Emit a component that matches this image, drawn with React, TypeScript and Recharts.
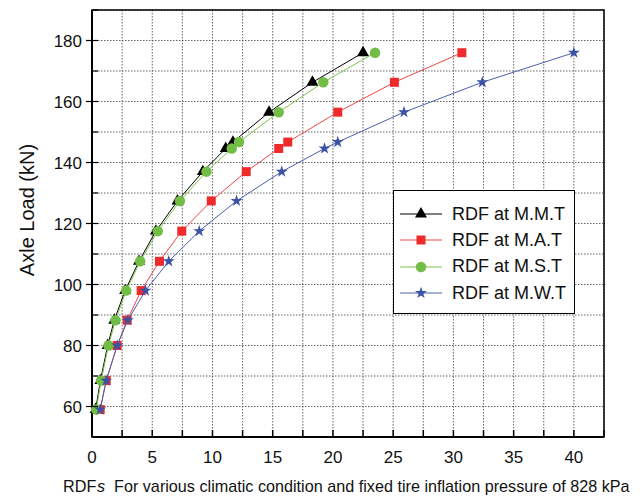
import { CartesianGrid, Legend, ReferenceArea, Scatter, ScatterChart, Symbols, XAxis, YAxis } from 'recharts';

// axle loads (kN) shared by every series
const loads = [59, 68.5, 80, 88.3, 98, 107.6, 117.5, 127.4, 137, 144.6, 146.7, 156.5, 166.3, 176];

// RDF values for each climatic condition
const rdfMMT = [0.3, 0.7, 1.3, 1.85, 2.75, 3.9, 5.3, 7.1, 9.2, 11.1, 11.7, 14.7, 18.3, 22.5];
const rdfMAT = [0.68, 1.18, 2.09, 2.92, 4.08, 5.6, 7.45, 9.9, 12.8, 15.5, 16.25, 20.4, 25.1, 30.7];
const rdfMST = [0.35, 0.76, 1.37, 1.95, 2.84, 4.0, 5.46, 7.3, 9.5, 11.6, 12.2, 15.5, 19.2, 23.5];
const rdfMWT = [0.68, 1.18, 2.09, 2.97, 4.44, 6.37, 8.9, 12.0, 15.75, 19.3, 20.4, 25.9, 32.4, 40.0];

const seriesNames = ['RDF at M.M.T', 'RDF at M.A.T', 'RDF at M.S.T', 'RDF at M.W.T'];

const xTicks = [0, 2.5, 5, 7.5, 10, 12.5, 15, 17.5, 20, 22.5, 25, 27.5, 30, 32.5, 35, 37.5, 40, 42.5];
const yTicks = [50, 60, 70, 80, 90, 100, 110, 120, 130, 140, 150, 160, 170, 180, 190];

const FONT = '"Liberation Sans", Arial, sans-serif';

const styles = [
  { symbol: 'triangle', fill: '#000000', line: '#000000', size: 12 },
  { symbol: 'square', fill: '#ee2a2a', line: '#f04848', size: 9 },
  { symbol: 'circle', fill: '#72bd45', line: '#7cc24e', size: 10.5 },
  { symbol: 'star', fill: '#3c52a4', line: '#4a5fae', size: 12 },
] as const;

const toPoints = (xs: number[]) => xs.map((x, i) => ({ x, y: loads[i] }));
const series = [rdfMMT, rdfMAT, rdfMST, rdfMWT].map((xs, i) => ({
  name: seriesNames[i],
  data: toPoints(xs),
  ...styles[i],
}));

const marker = (type: any, fill: string, size: number) => (props: any) =>
  <Symbols cx={props.cx} cy={props.cy} type={type} size={size} sizeType="diameter" fill={fill} />;

function BottomTick(props: any) {
  const { x, y, payload } = props;
  const major = payload.value % 5 === 0;
  return (
    <g>
      <line x1={x} x2={x} y1={y} y2={y - 7} stroke="#000" strokeWidth={1.5} />
      {major && (
        <text x={x} y={y + 26} textAnchor="middle" fontSize={17} fontFamily={FONT} fill="#111">
          {payload.value}
        </text>
      )}
    </g>
  );
}

function TopTick(props: any) {
  const { x, y, payload } = props;
  if (payload.value % 5 !== 0) return <g />;
  return <line x1={x} x2={x} y1={y} y2={y + 6} stroke="#000" strokeWidth={1.5} />;
}

function LeftTick(props: any) {
  const { x, y, payload } = props;
  const major = payload.value % 20 === 0 && payload.value >= 60 && payload.value <= 180;
  return (
    <g>
      <line x1={major ? x - 6 : x} x2={x + 6} y1={y} y2={y} stroke="#000" strokeWidth={1.2} />
      {major && (
        <text x={x - 10} y={y + 6} textAnchor="end" fontSize={17} fontFamily={FONT} fill="#111">
          {payload.value}
        </text>
      )}
    </g>
  );
}

function RightTick(props: any) {
  const { x, y, payload } = props;
  if (payload.value === 50 || payload.value === 190) return <g />;
  return <line x1={x} x2={x - 7} y1={y} y2={y} stroke="#000" strokeWidth={1.5} />;
}

function XTitle() {
  return (
    <g fontFamily={FONT} fontSize={16.2} fill="#111">
      <text x={63} y={492}>RDF</text>
      <text x={97} y={492} fontStyle="italic">s</text>
      <text x={114} y={492}>For various climatic condition and fixed tire inflation pressure of 828 kPa</text>
    </g>
  );
}

function LegendBox() {
  return (
    <div
      style={{
        width: 182,
        height: 124,
        border: '1.5px solid #000',
        background: '#fff',
        boxSizing: 'border-box',
        paddingTop: 10,
        fontFamily: FONT,
      }}
    >
      {series.map((s) => (
        <div key={s.name} style={{ display: 'flex', alignItems: 'center', height: 26.3 }}>
          <svg width={54} height={20} style={{ marginLeft: 4 }}>
            <line x1={2} x2={44} y1={10} y2={10} stroke={s.line} strokeWidth={1} />
            <Symbols cx={23} cy={10} type={s.symbol as any} size={s.size} sizeType="diameter" fill={s.fill} />
          </svg>
          <span style={{ fontSize: 18, color: '#111' }}>{s.name}</span>
        </div>
      ))}
    </div>
  );
}

export default function App() {
  return (
    <div style={{ position: 'absolute', left: 0, top: 0, background: '#fff' }}>
      <ScatterChart width={640} height={497} margin={{ top: 10, right: 36, left: 0, bottom: 0 }}>
        <CartesianGrid stroke="#555" strokeDasharray="1.5 1.5" strokeWidth={0.9} />
        <XAxis
          type="number"
          dataKey="x"
          domain={[0, 42.5]}
          ticks={xTicks}
          interval={0}
          height={60}
          tickSize={0}
          tickMargin={0}
          axisLine={{ stroke: '#000', strokeWidth: 2 }}
          tick={<BottomTick />}
          label={{ content: () => <XTitle /> }}
        />
        <XAxis
          xAxisId="top"
          orientation="top"
          type="number"
          domain={[0, 42.5]}
          ticks={xTicks}
          interval={0}
          height={0}
          tickSize={0}
          tickMargin={0}
          axisLine={{ stroke: '#000', strokeWidth: 2 }}
          tick={<TopTick />}
        />
        <YAxis
          type="number"
          dataKey="y"
          domain={[50, 190]}
          ticks={yTicks}
          interval={0}
          width={92}
          tickSize={0}
          tickMargin={0}
          axisLine={{ stroke: '#000', strokeWidth: 2 }}
          tick={<LeftTick />}
          label={{
            content: () => (
              <text
                x={27}
                y={210}
                transform="rotate(-90 27 210)"
                textAnchor="middle"
                dominantBaseline="central"
                fontSize={20}
                fontFamily={FONT}
                fill="#111"
              >
                Axle Load (kN)
              </text>
            ),
          }}
        />
        <YAxis
          yAxisId="right"
          orientation="right"
          type="number"
          domain={[50, 190]}
          ticks={yTicks}
          interval={0}
          width={0}
          tickSize={0}
          tickMargin={0}
          axisLine={{ stroke: '#000', strokeWidth: 2 }}
          tick={<RightTick />}
        />
        <ReferenceArea x1={0} x2={42.5} y1={50} y2={190} fill="none" stroke="#000" strokeWidth={1.5} />
        {series.map((s) => (
          <Scatter
            key={s.name}
            name={s.name}
            data={s.data}
            fill={s.fill}
            line={{ stroke: s.line, strokeWidth: 1 }}
            lineType="joint"
            shape={marker(s.symbol, s.fill, s.size)}
            isAnimationActive={false}
          />
        ))}
        <Legend
          layout="vertical"
          align="center"
          verticalAlign="middle"
          content={<LegendBox />}
          wrapperStyle={{ position: 'absolute', left: 393, top: 190, width: 182, height: 124 }}
        />
      </ScatterChart>
    </div>
  );
}
